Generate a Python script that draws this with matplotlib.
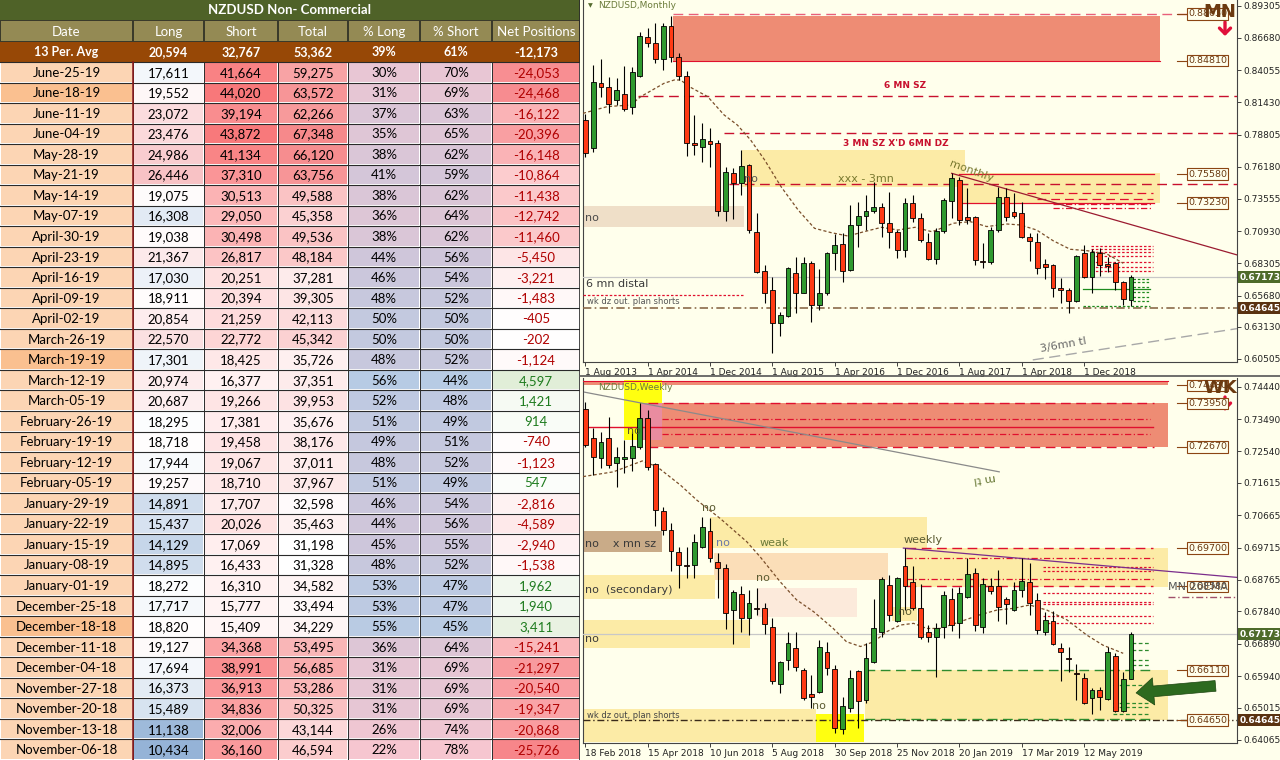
import matplotlib
matplotlib.use("Agg")
import matplotlib.pyplot as plt
from matplotlib.patches import Rectangle
from matplotlib.lines import Line2D
from matplotlib.colors import to_rgb
import numpy as np

W, H = 1280, 760
BG = "#FFFFEC"

# ---------------- COT table (NZDUSD non-commercial) ----------------
title = "NZDUSD Non- Commercial"
headers = ["Date", "Long", "Short", "Total", "% Long", "% Short", "Net Positions"]
avg_row = ["13 Per. Avg", "20,594", "32,767", "53,362", "39%", "61%", "-12,173"]

dates = ["June-25-19", "June-18-19", "June-11-19", "June-04-19", "May-28-19", "May-21-19",
         "May-14-19", "May-07-19", "April-30-19", "April-23-19", "April-16-19", "April-09-19",
         "April-02-19", "March-26-19", "March-19-19", "March-12-19", "March-05-19",
         "February-26-19", "February-19-19", "February-12-19", "February-05-19",
         "January-29-19", "January-22-19", "January-15-19", "January-08-19", "January-01-19",
         "December-25-18", "December-18-18", "December-11-18", "December-04-18",
         "November-27-18", "November-20-18", "November-13-18", "November-06-18"]
longs = [17611, 19552, 23072, 23476, 24986, 26446, 19075, 16308, 19038, 21367, 17030, 18911,
         20854, 22570, 17301, 20974, 20687, 18295, 18718, 17944, 19257, 14891, 15437, 14129,
         14895, 18272, 17717, 18820, 19127, 17694, 16373, 15489, 11138, 10434]
shorts = [41664, 44020, 39194, 43872, 41134, 37310, 30513, 29050, 30498, 26817, 20251, 20394,
          21259, 22772, 18425, 16377, 19266, 17381, 19458, 19067, 18710, 17707, 20026, 17069,
          16433, 16310, 15777, 15409, 34368, 38991, 36913, 34836, 32006, 36160]
totals = [59275, 63572, 62266, 67348, 66120, 63756, 49588, 45358, 49536, 48184, 37281, 39305,
          42113, 45342, 35726, 37351, 39953, 35676, 38176, 37011, 37967, 32598, 35463, 31198,
          31328, 34582, 33494, 34229, 53495, 56685, 53286, 50325, 43144, 46594]
pct_long = [30, 31, 37, 35, 38, 41, 38, 36, 38, 44, 46, 48, 50, 50, 48, 56, 52, 51, 49, 48, 51,
            46, 44, 45, 48, 53, 53, 55, 36, 31, 31, 31, 26, 22]
pct_short = [70, 69, 63, 65, 62, 59, 62, 64, 62, 56, 54, 52, 50, 50, 52, 44, 48, 49, 51, 52, 49,
             54, 56, 55, 52, 47, 47, 45, 64, 69, 69, 69, 74, 78]
net = [-24053, -24468, -16122, -20396, -16148, -10864, -11438, -12742, -11460, -5450, -3221,
       -1483, -405, -202, -1124, 4597, 1421, 914, -740, -1123, 547, -2816, -4589, -2940, -1538,
       1962, 1940, 3411, -15241, -21297, -20540, -19347, -20868, -25726]
highlight_dates = ["June-18-19", "March-19-19", "December-18-18"]

# ---------------- monthly candles, Aug 2013 .. Jun 2019 ----------------
m_open = [.7999, .7768, .8298, .8271, .8162, .8208, .8108, .8358, .8678, .8629, .8493, .8765,
          .8510, .8358, .7814, .7782, .7830, .7809, .7260, .7564, .7483, .7632, .7089, .6771,
          .6613, .6341, .6401, .6749, .6592, .6831, .6491, .6592, .6912, .6985, .6776, .7140,
          .7216, .7257, .7287, .7157, .7089, .6939, .7320, .7197, .7007, .6863, .7097, .7339,
          .7510, .7211, .7211, .6852, .6839, .7102, .7374, .7252, .7238, .7043, .7007, .6822,
          .6817, .6627, .6613, .6524, .6918, .6722, .6912, .6822, .6831, .6681, .6532]
m_high = [.8050, .8447, .8493, .8347, .8339, .8439, .8434, .8713, .8746, .8792, .8792, .8847,
          .8542, .8401, .8040, .7977, .7931, .7836, .7619, .7605, .7754, .7638, .7238, .6817,
          .6716, .6437, .6803, .6885, .6885, .6850, .6787, .6926, .7067, .7075, .7306, .7333,
          .7388, .7496, .7325, .7415, .7102, .7360, .7388, .7238, .7075, .7116, .7360, .7564,
          .7537, .7442, .7216, .6994, .7130, .7450, .7442, .7407, .7333, .7075, .7081, .6863,
          .6825, .6708, .6627, .6899, .6980, .6945, .6953, .6885, .6844, .6689, .6736]
m_low = [.7700, .7741, .8189, .8053, .8121, .8072, .8048, .8347, .8597, .8461, .8406, .8474,
         .8325, .7705, .7714, .7659, .7619, .7216, .7178, .7189, .7388, .7075, .6749, .6505,
         .6102, .6238, .6396, .6428, .6586, .6355, .6450, .6573, .6776, .6681, .6771, .6966,
         .7102, .7238, .7043, .6953, .6871, .6885, .7170, .7007, .6858, .6825, .7075, .7197,
         .7143, .7151, .6817, .6790, .6825, .7089, .7178, .7197, .7034, .6852, .6744, .6700,
         .6553, .6505, .6428, .6518, .6708, .6592, .6727, .6763, .6613, .6491, .6483]
m_close = [.7727, .8311, .8265, .8129, .8243, .8086, .8393, .8684, .8629, .8493, .8765, .8510,
           .8358, .7814, .7795, .7841, .7803, .7260, .7572, .7488, .7624, .7102, .6763, .6592,
           .6347, .6409, .6790, .6592, .6831, .6491, .6592, .6912, .6980, .6771, .7140, .7216,
           .7257, .7292, .7157, .7089, .6939, .7320, .7197, .7021, .6863, .7097, .7347, .7523,
           .7184, .7184, .6858, .6839, .7102, .7374, .7211, .7216, .7043, .7015, .6790, .6803,
           .6627, .6613, .6524, .6890, .6722, .6926, .6817, .6812, .6681, .6540, .6717]
m_xlabels = ["1 Aug 2013", "1 Apr 2014", "1 Dec 2014", "1 Aug 2015", "1 Apr 2016",
             "1 Dec 2016", "1 Aug 2017", "1 Apr 2018", "1 Dec 2018"]
m_yticks = [0.89305, 0.86680, 0.84055, 0.81430, 0.78805, 0.76180, 0.73555, 0.70930,
            0.68305, 0.65680, 0.63130, 0.60505]
m_ma_x = [-0.3, 2.8, 5.8, 7.1, 10.1, 11.4, 12.2, 13.5, 15.7, 17.8, 19.5, 21.2, 23.0, 25.1, 27.3,
          29.4, 31.5, 33.7, 35.8, 38.0, 40.1, 42.3, 44.4, 45.1, 47.2, 49.4, 51.5, 54.1, 55.8,
          57.9, 60.0, 62.2, 64.3, 66.9, 69.0]
m_ma_y = [.8053, .8108, .8121, .8189, .8298, .8325, .8325, .8265, .8189, .8040, .7958, .7836,
          .7673, .7456, .7265, .7116, .7081, .7053, .7089, .7124, .7102, .7124, .7089, .7102,
          .7157, .7170, .7130, .7151, .7143, .7102, .7015, .6945, .6934, .6907, .6831]

# ---------------- weekly candles, 18 Feb 2018 .. 23 Jun 2019 ----------------
w_open = [.7380, .7292, .7234, .7292, .7219, .7232, .7234, .7268, .7353, .7216, .7079, .7023,
          .6960, .6920, .6920, .6974, .7020, .6928, .6913, .6788, .6834, .6764, .6793, .6793,
          .6739, .6570, .6641, .6678, .6612, .6541, .6548, .6666, .6615, .6439, .6499, .6609,
          .6524, .6635, .6725, .6862, .6756, .6916, .6869, .6795, .6723, .6710, .6739, .6821,
          .6749, .6827, .6896, .6739, .6860, .6860, .6821, .6788, .6847, .6869, .6818, .6725,
          .6756, .6678, .6646, .6602, .6589, .6529, .6553, .6527, .6654, .6492, .6587]
w_high = [.7400, .7322, .7312, .7356, .7268, .7288, .7312, .7395, .7376, .7219, .7092, .7043,
          .6974, .6974, .7010, .7062, .7059, .6955, .6922, .6847, .6860, .6847, .6852, .6808,
          .6766, .6638, .6723, .6725, .6617, .6597, .6700, .6695, .6627, .6534, .6612, .6612,
          .6690, .6821, .6886, .6891, .6886, .6969, .6916, .6864, .6744, .6749, .6844, .6852,
          .6857, .6942, .6911, .6881, .6883, .6906, .6827, .6871, .6942, .6925, .6837, .6783,
          .6785, .6690, .6680, .6629, .6602, .6558, .6563, .6680, .6661, .6607, .6723]
w_low = [.7268, .7185, .7204, .7204, .7150, .7190, .7195, .7261, .7199, .7036, .7008, .6903,
         .6852, .6883, .6883, .6971, .6930, .6824, .6732, .6687, .6725, .6715, .6774, .6717,
         .6570, .6543, .6612, .6609, .6524, .6499, .6543, .6597, .6426, .6423, .6490, .6441,
         .6514, .6632, .6710, .6756, .6754, .6788, .6788, .6703, .6695, .6592, .6705, .6727,
         .6705, .6824, .6727, .6720, .6835, .6756, .6746, .6785, .6827, .6775, .6717, .6715,
         .6684, .6580, .6607, .6524, .6511, .6482, .6494, .6524, .6488, .6490, .6585]
w_close = [.7273, .7238, .7283, .7214, .7238, .7238, .7271, .7353, .7209, .7082, .7023, .6962,
           .6920, .6916, .6987, .7033, .6942, .6911, .6778, .6840, .6766, .6808, .6791, .6746,
           .6580, .6635, .6690, .6622, .6531, .6534, .6681, .6617, .6441, .6507, .6589, .6521,
           .6646, .6734, .6879, .6775, .6883, .6860, .6795, .6710, .6710, .6734, .6832, .6744,
           .6837, .6893, .6744, .6864, .6844, .6798, .6805, .6847, .6873, .6808, .6729, .6759,
           .6687, .6664, .6644, .6600, .6514, .6553, .6534, .6664, .6492, .6587, .6717]
w_xlabels = ["18 Feb 2018", "15 Apr 2018", "10 Jun 2018", "5 Aug 2018", "30 Sep 2018",
             "25 Nov 2018", "20 Jan 2019", "17 Mar 2019", "12 May 2019"]
w_yticks = [0.74440, 0.73490, 0.72540, 0.71615, 0.70665, 0.69715, 0.68765, 0.67840,
            0.66890, 0.65940, 0.65015, 0.64065]
w_ma_x = [-0.3, 3.6, 7.3, 9.2, 12.2, 14.3, 17.3, 20.7, 22.4, 25.0, 27.1, 29.3, 31.8, 33.5, 35.3,
          37.0, 38.7, 40.4, 42.1, 43.8, 45.5, 48.1, 50.6, 52.8, 54.9, 57.0, 59.2, 61.8, 64.3,
          66.4, 69.0]
w_ma_y = [.7180, .7194, .7226, .7209, .7155, .7111, .7057, .6989, .6945, .6871, .6818, .6783,
          .6734, .6695, .6681, .6695, .6725, .6744, .6749, .6734, .6734, .6754, .6774, .6788,
          .6793, .6803, .6788, .6759, .6715, .6685, .6661]

current_price = 0.67173
dz_line = 0.64645

X_LO, X_HI = -0.3, 83.6
TAG_X = 77.2
RED = "#E0102E"
YEL = "#FCEBA6"
SAL = "#EE8C74"

# zones: x0, x1, low, high, colour
m_zones = [(11.2, 73.7, 0.8481, 0.8850, SAL), (20.1, 48.7, 0.7450, 0.7754, YEL),
           (48.1, 73.7, 0.7323, 0.7570, YEL), (X_LO, 20.3, 0.7130, 0.7298, "#EFDFC8")]
w_zones = [(X_LO, 74.8, 0.7449, 0.7461, SAL), (8.1, 74.8, 0.7267, 0.7395, SAL),
           (4.9, 9.8, 0.7288, 0.7464, "#FFFF10"), (7.1, 9.8, 0.7288, 0.7395, "#E98CA0"),
           (X_LO, 9.8, 0.6958, 0.7020, "#C9AB88"), (16.0, 43.8, 0.6971, 0.7062, YEL),
           (16.5, 38.8, 0.6876, 0.6955, "#FBDEB8"), (22.0, 34.8, 0.6769, 0.6854, "#FCEADB"),
           (X_LO, 16.6, 0.6821, 0.6891, YEL), (X_LO, 21.1, 0.6678, 0.6759, YEL),
           (X_LO, 29.6, 0.6402, 0.6497, YEL), (29.6, 35.7, 0.6402, 0.6482, "#FFFF10"),
           (35.9, 74.8, 0.6465, 0.6611, YEL), (41.0, 74.8, 0.6857, 0.6970, YEL),
           (39.3, 42.5, 0.6756, 0.6798, YEL)]

LD = (0, (7, 4))      # long dash
DD = (0, (5, 2, 1, 2))  # dash-dot
DT = (0, (2, 1.5))    # dotted
# levels: x0, x1, price, colour, style, width
m_levels = [(11.2, X_HI, 0.8863, "#E8607A", LD, 1.0), (11.2, 73.7, 0.8481, RED, "-", 0.8),
            (6.8, X_HI, 0.8197, "#C8102E", LD, 1.0), (17.8, X_HI, 0.7890, "#C8102E", LD, 1.0),
            (18.4, X_HI, 0.7477, "#C8102E", LD, 1.0), (48.0, 73.0, 0.7558, RED, "-", 0.9),
            (48.0, 73.0, 0.7323, RED, "-", 0.9), (56.7, 72.8, 0.7407, RED, LD, 0.9),
            (58.0, 72.8, 0.7352, RED, LD, 0.9), (60.0, 72.8, 0.7314, RED, DD, 0.9),
            (60.0, 72.8, 0.7279, RED, DD, 0.9),
            (X_LO, X_HI, current_price, "#C8C8C8", "-", 0.9),
            (X_LO, X_HI, dz_line, "#8B6B4A", DD, 1.2), (X_LO, 20.3, 0.6573, RED, DT, 0.9),
            (63.9, 72.5, 0.6619, "#1E8B1E", "-", 0.9), (63.9, 72.5, 0.6483, "#1E8B1E", DT, 0.9)]
m_red_cluster = [0.6972, 0.6945, 0.6920, 0.6890, 0.6844, 0.6803, 0.6771]
m_green_cluster = [0.6700, 0.6676, 0.6635, 0.6597, 0.6556, 0.6522]

w_levels = [(X_LO, 74.8, 0.7461, RED, "-", 0.8), (8.0, 72.9, 0.7395, RED, LD, 1.0),
            (8.0, 72.9, 0.7267, RED, LD, 1.0), (9.8, 72.5, 0.7349, RED, DD, 0.9),
            (9.8, 72.5, 0.7304, RED, DD, 0.9), (X_LO, 72.8, 0.7325, RED, "-", 1.0),
            (41.2, 72.8, 0.6969, RED, LD, 1.0), (41.2, 72.8, 0.6941, RED, DD, 0.9),
            (41.2, 72.8, 0.6859, RED, LD, 1.0), (41.2, 72.8, 0.6880, RED, DD, 0.9),
            (X_LO, X_HI, current_price, "#C8C8C8", "-", 0.9),
            (X_LO, X_HI, dz_line, "#3A2A1A", DD, 1.0),
            (35.9, 72.8, 0.6611, "#2E8B2E", LD, 1.0), (35.9, 72.8, 0.6468, "#2E8B2E", LD, 1.0),
            (74.8, X_HI, 0.6827, "#A0506A", DD, 1.0)]
w_red_cluster = [0.6914, 0.6902, 0.6837, 0.6813, 0.6805, 0.6772, 0.6751]
w_green_cluster = [0.6690, 0.6670, 0.6641, 0.6626, 0.6568, 0.6514, 0.6504, 0.6484]

m_tags = [(0.8863, "0.88630"), (0.8481, "0.84810"), (0.7558, "0.75580"), (0.7323, "0.73230")]
w_tags = [(0.7448, "0.74480"), (0.7395, "0.73950"), (0.7267, "0.72670"), (0.6970, "0.69700"),
          (0.6858, "0.68580"), (0.6611, "0.66110"), (0.6465, "0.64650")]

# ---------------- helpers ----------------
fig = plt.figure(figsize=(W / 100, H / 100), dpi=100)
fig.patch.set_facecolor(BG)


def add_px_axes(x0, y0, x1, y1):
    return fig.add_axes([x0 / W, 1 - y1 / H, (x1 - x0) / W, (y1 - y0) / H])


def mix(c1, c2, t):
    t = min(max(t, 0.0), 1.0)
    a, b = np.array(to_rgb(c1)), np.array(to_rgb(c2))
    return tuple(a + (b - a) * t)


def scale3(v, lo, mid, hi, c_lo, c_mid, c_hi):
    if v <= mid:
        return mix(c_lo, c_mid, (v - lo) / (mid - lo))
    return mix(c_mid, c_hi, (v - mid) / (hi - mid))


def note(x, y, s, **kw):
    kw.setdefault("fontsize", 7.5)
    kw.setdefault("color", "#4A4A4A")
    kw.setdefault("va", "center")
    fig.text(x / W, 1 - y / H, s, **kw)


def down_arrow(ax, x, y0, y1):
    ax.annotate("", xy=(x / W, 1 - y1 / H), xytext=(x / W, 1 - y0 / H),
                xycoords="figure fraction", textcoords="figure fraction",
                arrowprops=dict(arrowstyle="->,head_width=0.4,head_length=0.4",
                                color="#E0103A", lw=2.4, shrinkA=0, shrinkB=0))


# ---------------- table ----------------
ax_t = add_px_axes(0, 0, 580, 760)
ax_t.set_xlim(0, 580)
ax_t.set_ylim(760, 0)
ax_t.axis("off")
ax_t.add_patch(Rectangle((0, 0), 580, 760, fc="white", ec="none"))
edges = [0, 133, 204, 278, 348, 420, 492, 580]
TF = ["Lato", "DejaVu Sans"]
FS = 9.5

ax_t.add_patch(Rectangle((0, 0), 580, 20, fc="#4F6228", ec="none"))
ax_t.text(290, 10.5, title, ha="center", va="center", color="white", fontsize=FS,
          fontweight="bold", family=TF)
ax_t.add_patch(Rectangle((0, 20), 580, 22, fc="#3A3A2A", ec="none"))
ax_t.add_patch(Rectangle((0, 42), 580, 20, fc="#974806", ec="none"))
for j in range(7):
    x0, x1 = edges[j], edges[j + 1]
    ax_t.add_patch(Rectangle((x0 + 1, 21), x1 - x0 - 2, 20, fc="#948A54", ec="none"))
    ax_t.text((x0 + x1) / 2, 31.5, headers[j], ha="center", va="center", color="white",
              fontsize=FS, family=TF)
    ax_t.text((x0 + x1) / 2, 52.5, avg_row[j], ha="center", va="center", color="white",
              fontsize=FS - 0.5, fontweight="bold", family=TF)

n = len(dates)
row_h = (760 - 62) / n
long_mid = float(np.median(longs))
for i in range(n):
    y0 = 62 + i * row_h
    yc = y0 + row_h / 2 + 0.5
    date_fc = "#FAC090" if dates[i] in highlight_dates else "#FCD5B4"
    cells = [
        (dates[i], date_fc, "black"),
        (f"{longs[i]:,}", scale3(longs[i], min(longs), long_mid, max(longs),
                                 "#95B3D7", "#FFFFFF", "#F8C2C5"), "black"),
        (f"{shorts[i]:,}", mix("#FFF5F5", "#F8787A", (shorts[i] - min(shorts)) /
                               (max(shorts) - min(shorts))), "black"),
        (f"{totals[i]:,}", mix("#FFFFFF", "#F6898B", (totals[i] - min(totals)) /
                               (max(totals) - min(totals))), "black"),
        (f"{pct_long[i]}%", scale3(pct_long[i], 22, 44, 56, "#F6C6D0", "#CFC6DA", "#B7CBE4"),
         "black"),
        (f"{pct_short[i]}%", scale3(pct_long[i], 22, 44, 56, "#F6C6D0", "#CFC6DA", "#B7CBE4"),
         "black"),
        (f"{net[i]:,}", mix("#FFFFFF", "#F7868A", net[i] / min(net)) if net[i] < 0
         else mix("#FFFFFF", "#E1EED8", net[i] / max(net)),
         "#B00000" if net[i] < 0 else "#1E7B1E"),
    ]
    for j, (txt, fc, tc) in enumerate(cells):
        x0, x1 = edges[j], edges[j + 1]
        ax_t.add_patch(Rectangle((x0 + 1, y0 + 1), x1 - x0 - 2, row_h - 2, fc=fc, ec="none"))
        ax_t.text((x0 + x1) / 2, yc, txt, ha="center", va="center", color=tc, fontsize=FS,
                  family=TF)
    ax_t.plot([0, 580], [y0, y0], color="#2A2A2A", lw=0.8)
for x in edges[1:-1]:
    ax_t.plot([x, x], [62, 760], color="#2A2A2A", lw=0.7)
ax_t.plot([133, 133], [62, 760], color="#8B1A1A", lw=1.2)
ax_t.plot([579.5, 579.5], [0, 760], color="#2A2A2A", lw=1.2)


# ---------------- charts ----------------
def style_axes(ax, ylo, yhi, yticks, xlabels):
    ax.set_facecolor(BG)
    ax.set_xlim(X_LO, X_HI)
    ax.set_ylim(ylo, yhi)
    ax.yaxis.tick_right()
    ax.set_yticks(yticks)
    ax.set_yticklabels([f"{t:.5f}" for t in yticks])
    ax.set_xticks(np.arange(0, 8 * len(xlabels), 8))
    ax.set_xticklabels(xlabels, ha="left")
    ax.tick_params(labelsize=6.5, length=3, width=0.6, colors="#222222", pad=1.5)
    for s in ax.spines.values():
        s.set_color("#444444")
        s.set_linewidth(0.8)
    ax.spines["top"].set_visible(False)


def draw_zones(ax, zones):
    for x0, x1, lo, hi, col in zones:
        ax.add_patch(Rectangle((x0, lo), x1 - x0, hi - lo, fc=col, ec="none", zorder=1))


def draw_levels(ax, levels):
    for x0, x1, y, col, ls, lw in levels:
        ax.plot([x0, x1], [y, y], color=col, ls=ls, lw=lw, zorder=3)


def draw_cluster(ax, prices, x0, x1, col, ls):
    for p in prices:
        ax.plot([x0, x1], [p, p], color=col, ls=ls, lw=0.9, zorder=3)


def draw_candles(ax, o, h, l, c, min_body):
    o, h, l, c = map(np.asarray, (o, h, l, c))
    x = np.arange(len(o))
    ax.vlines(x, l, h, color="black", lw=0.8, zorder=6)
    bottom = np.minimum(o, c)
    height = np.maximum(np.abs(c - o), min_body)
    colors = np.where(c >= o, "#2F9A2F", "#FF3A14")
    ax.bar(x, height, bottom=bottom, width=0.62, color=colors, edgecolor="black", lw=0.6,
           zorder=7)


def price_tags(ax, tags):
    for y, txt in tags:
        ax.plot([TAG_X - 1.3, TAG_X], [y, y], color="#8B4513", lw=0.8, zorder=8)
        ax.text(TAG_X + 0.1, y, txt, ha="left", va="center", fontsize=6.8, color="#6B3A12",
                zorder=9, bbox=dict(boxstyle="square,pad=0.12", fc=BG, ec="#8B4513", lw=0.8))


def axis_badge(ax, y, txt, fc):
    ax.text(1.004, y, txt, transform=ax.get_yaxis_transform(), ha="left", va="center",
            fontsize=6.5, color="white", fontweight="bold", clip_on=False, zorder=10,
            bbox=dict(boxstyle="square,pad=0.18", fc=fc, ec="none"))


# monthly
ax_m = add_px_axes(583, 0, 1237, 362)
style_axes(ax_m, 0.6026, 0.8977, m_yticks, m_xlabels)
draw_zones(ax_m, m_zones)
draw_levels(ax_m, m_levels)
draw_cluster(ax_m, m_red_cluster, 64.9, 72.8, RED, DT)
draw_cluster(ax_m, m_green_cluster, 70.3, 72.5, "#1E8B1E", DT)
ax_m.plot([47, 83.6], [0.7564, 0.6899], color="#9B1B30", lw=0.9, zorder=4)
ax_m.plot([57.4, 83.6], [0.6043, 0.6298], color="#A8A8A8", lw=1.0, ls=(0, (8, 4)), zorder=4)
ax_m.plot(m_ma_x, m_ma_y, color="#7A4E2A", lw=0.9, ls=(0, (2.5, 1.8)), zorder=5)
draw_candles(ax_m, m_open, m_high, m_low, m_close, 0.0008)
price_tags(ax_m, m_tags)
axis_badge(ax_m, current_price, "0.67173", "#4E6B2A")
axis_badge(ax_m, dz_line, "0.64645", "#5A3210")

# weekly
ax_w = add_px_axes(583, 378, 1237, 743)
style_axes(ax_w, 0.63976, 0.74696, w_yticks, w_xlabels)
draw_zones(ax_w, w_zones)
draw_levels(ax_w, w_levels)
draw_cluster(ax_w, w_red_cluster, 58.7, 72.8, RED, DT)
draw_cluster(ax_w, w_green_cluster[:4], 70.1, 72.5, "#2E8B2E", (0, (3, 2)))
draw_cluster(ax_w, w_green_cluster[4:], 67.7, 72.5, "#2E8B2E", (0, (3, 2)))
ax_w.plot([-0.1, 53.1], [0.7428, 0.7194], color="#8A8A8A", lw=0.9, zorder=4)
ax_w.plot([40.8, 83.6], [0.6970, 0.6884], color="#7B2D8B", lw=0.9, zorder=4)
ax_w.plot(w_ma_x, w_ma_y, color="#7A4E2A", lw=0.9, ls=(0, (2.5, 1.8)), zorder=5)
draw_candles(ax_w, w_open, w_high, w_low, w_close, 0.00025)
price_tags(ax_w, w_tags)
axis_badge(ax_w, current_price, "0.67173", "#4E6B2A")
axis_badge(ax_w, dz_line, "0.64645", "#5A3210")
ax_w.annotate("", xy=(70.3, 0.6544), xytext=(81.2, 0.6566), annotation_clip=False,
              arrowprops=dict(arrowstyle="simple,head_length=0.9,head_width=1.4,tail_width=0.55",
                              fc="#2D6A1F", ec="#1C4510", lw=0.5, mutation_scale=14), zorder=9)

fig.add_artist(Line2D([580 / W, 1], [1 - 376 / H, 1 - 376 / H], color="#555555", lw=1.2))

# ---------------- chart notes ----------------
OL = "#6B7B3A"
note(588, 6, "\u25bc", fontsize=4.5, color="#556B2F")
note(598, 6, "NZDUSD,Monthly", fontsize=6.5, color=OL)
note(905, 85, "6 MN SZ", fontsize=6.5, color="#C8102E", fontweight="bold", ha="center")
note(896, 143, "3 MN SZ X'D 6MN DZ", fontsize=6.5, color="#C8102E", fontweight="bold",
     ha="center")
note(866, 179, "xxx - 3mn", fontsize=8, color="#7A7A30", ha="center")
note(971, 171, "monthly", fontsize=8, color="#7A7A30", ha="center", rotation=-20)
note(585, 218, "no", fontsize=8)
note(744, 179, "no", fontsize=8, color="#555555")
note(586, 284, "6 mn distal", fontsize=8, color="#3A3A3A")
note(587, 302, "wk dz out. plan shorts", fontsize=6, color="#555555")
note(1063, 345, "3/6mn tl", fontsize=8, color="#666666", rotation=10, ha="center")
note(1220, 12, "MN", fontsize=13, fontweight="bold", color="#6B3A10", ha="center",
     family="DejaVu Sans Condensed")
down_arrow(ax_m, 1225, 22, 36)

note(598, 388, "NZDUSD,Weekly", fontsize=6.5, color=OL)
note(627, 431, "no", fontsize=8, color="#5A5A30")
note(585, 544, "no    x mn sz", fontsize=8, color="#3A3A3A")
note(702, 508, "no", fontsize=8, color="#5A5A30")
note(716, 543, "no", fontsize=8, color="#6A78A8")
note(760, 543, "weak", fontsize=8, color=OL)
note(756, 578, "no", fontsize=8, color="#5A5A30")
note(585, 590, "no  (secondary)", fontsize=8, color="#3A3A3A")
note(585, 639, "no", fontsize=8, color="#3A3A3A")
note(904, 540, "weekly", fontsize=8, color="#5A5A30")
note(898, 612, "no", fontsize=8, color="#5A5A30")
note(812, 706, "no", fontsize=8, color="#5A5A30")
note(587, 715, "wk dz out, plan shorts", fontsize=6, color="#444444")
note(985, 478, "m tl", fontsize=8, color=OL, rotation=188, ha="center")
note(1168, 587, "MN 20EMA", fontsize=8, color="#555555")
note(1220, 388, "WK", fontsize=13, fontweight="bold", color="#6B3A10", ha="center",
     family="DejaVu Sans Condensed")
down_arrow(ax_w, 1225, 397, 411)

fig.savefig("out.png", dpi=100, facecolor=BG)
